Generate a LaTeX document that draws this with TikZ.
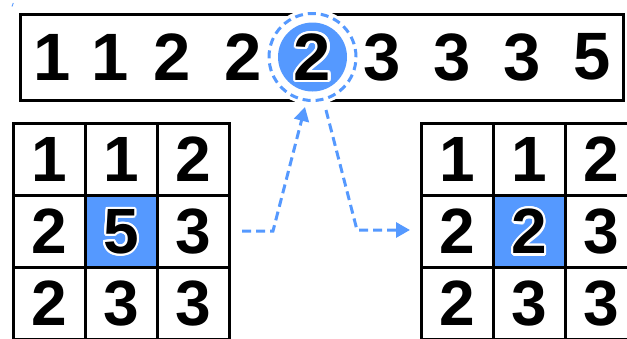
\documentclass[tikz,border=0pt]{standalone}
\usepackage{fontspec}
\setmainfont{Liberation Sans}
\usetikzlibrary{arrows.meta}
\definecolor{medblue}{HTML}{5599FF}
\begin{document}
\begin{tikzpicture}[x=1pt,y=-1pt,
  bigdigit/.style={font=\fontsize{67}{67}\selectfont\bfseries, inner sep=0pt},
  celldigit/.style={font=\fontsize{64}{64}\selectfont\bfseries, inner sep=0pt},
  cell/.style={draw, line width=3pt, minimum size=72pt, inner sep=0pt, font=\fontsize{64}{64}\selectfont\bfseries},
  flow/.style={medblue, line width=3pt, dash pattern=on 9pt off 5pt, -{Triangle[length=14pt,width=15pt]}}]
\useasboundingbox (0,0) rectangle (627,338);
\clip (0,0) rectangle (627,338);
% tiny mark
\draw[medblue, line width=0.9pt] (12,6.5) -- (13.3,3);
% sorted bar
\node[draw, line width=3pt, minimum width=603pt, minimum height=86pt, inner sep=0pt] (bar) at (321.5,57) {};
\foreach \x/\d [count=\i] in {52/1,110/1,172/2,243/2,382/3,452/3,522/3,592/5}
  \node[bigdigit] (b\i) at (\x,57) {\d};
% median circle
\node[circle, fill=white, minimum size=96pt, inner sep=0pt] (medbg) at (312.5,57) {};
\node[circle, draw=medblue, line width=3pt, dash pattern=on 8pt off 5pt, minimum size=87pt, inner sep=0pt] (ring) at (medbg.center) {};
\node[circle, fill=medblue, minimum size=69pt, inner sep=0pt] (med) at (medbg.center) {};
\foreach \a in {0,20,...,340}
  \node[bigdigit, text=white] at ([shift={(\a:2.3)}]med.center) {2};
\node[bigdigit] (medtxt) at (med.center) {2};
% left grid
\node[cell] (L11) at (49,159.5) {1};
\node[cell] (L12) at (121,159.5) {1};
\node[cell] (L13) at (193,159.5) {2};
\node[cell] (L21) at (49,231.5) {2};
\node[cell, fill=medblue] (L22) at (121,231.5) {};
\node[cell] (L23) at (193,231.5) {3};
\node[cell] (L31) at (49,303.5) {2};
\node[cell] (L32) at (121,303.5) {3};
\node[cell] (L33) at (193,303.5) {3};
\foreach \a in {0,20,...,340}
  \node[celldigit, text=white] at ([shift={(\a:2.2)}]L22.center) {5};
\node[celldigit] (L22t) at (L22.center) {5};
% right grid
\node[cell] (R11) at (457.5,159.5) {1};
\node[cell] (R12) at (529.5,159.5) {1};
\node[cell] (R13) at (601.5,159.5) {2};
\node[cell] (R21) at (457.5,231.5) {2};
\node[cell, fill=medblue] (R22) at (529.5,231.5) {};
\node[cell] (R23) at (601.5,231.5) {3};
\node[cell] (R31) at (457.5,303.5) {2};
\node[cell] (R32) at (529.5,303.5) {3};
\node[cell] (R33) at (601.5,303.5) {3};
\foreach \a in {0,20,...,340}
  \node[celldigit, text=white] at ([shift={(\a:2.2)}]R22.center) {2};
\node[celldigit] (R22t) at (R22.center) {2};
% connectors
\coordinate (a1s) at (242,231);
\coordinate (a1k) at (273,231);
\coordinate (a1e) at (305,107);
\coordinate (a2s) at (326,110);
\coordinate (a2k) at (357,230);
\coordinate (a2e) at (410,230);
\draw[flow] (a1s) -- (a1k) -- (a1e);
\draw[flow] (a2s) -- (a2k) -- (a2e);
\end{tikzpicture}
\end{document}
